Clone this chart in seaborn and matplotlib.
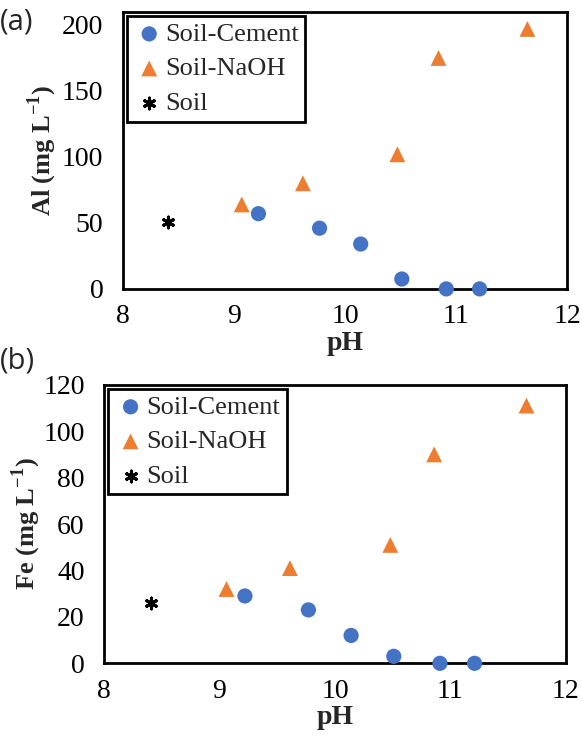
import pandas as pd
import seaborn as sns
from matplotlib import pyplot as plt

# data
ph_cement = [9.22, 9.77, 10.14, 10.51, 10.91, 11.21]
al_cement = [57, 46, 34, 7.5, 0, 0]
fe_cement = [29, 23, 12, 3, 0, 0]

ph_naoh_al = [9.07, 9.62, 10.47, 10.84, 11.64]
al_naoh = [64, 80, 102, 175, 197]
ph_naoh_fe = [9.06, 9.61, 10.48, 10.86, 11.66]
fe_naoh = [32, 41, 51, 90, 111]

ph_soil = [8.41]
al_soil = [51]
fe_soil = [26]

blue = "#4472C4"
orange = "#ED7D31"

sns.set_style("white")
plt.rcParams['font.family'] = ['Liberation Serif', 'DejaVu Serif']
plt.rcParams['mathtext.fontset'] = 'custom'
plt.rcParams['mathtext.rm'] = 'Liberation Serif'
plt.rcParams['mathtext.bf'] = 'Liberation Serif:bold'

fig = plt.figure(figsize=(5.82, 7.37), dpi=100)
ax1 = fig.add_axes([0.211, 0.608, 0.764, 0.376])
ax2 = fig.add_axes([0.179, 0.100, 0.793, 0.378])


def draw(ax, ph_c, y_c, ph_n, y_n, ph_s, y_s):
    sns.scatterplot(x=ph_c, y=y_c, ax=ax, color=blue, marker="o", s=120,
                    edgecolor="none", label="Soil-Cement", clip_on=False, zorder=3)
    sns.scatterplot(x=ph_n, y=y_n, ax=ax, color=orange, marker="^", s=130,
                    edgecolor="none", label="Soil-NaOH", clip_on=False, zorder=3)
    sns.scatterplot(x=ph_s, y=y_s, ax=ax, color="black", marker=(6, 2, 0), s=60,
                    linewidth=2.2, label="Soil", zorder=3)
    ax.set_xlim(8, 12)
    ax.set_xticks([8, 9, 10, 11, 12])
    for sp in ax.spines.values():
        sp.set_visible(True)
        sp.set_color("black")
        sp.set_linewidth(2)
    ax.tick_params(direction="in", length=7, width=1.5, labelsize=20,
                   colors="black", pad=14)
    ax.tick_params(axis="x", pad=11)
    ax.set_xlabel("pH", fontsize=20, fontweight="bold", labelpad=1)
    leg = ax.legend(loc="upper left", fontsize=19, frameon=True, fancybox=False,
                    framealpha=1, edgecolor="black", borderpad=0.25,
                    handletextpad=0.0, labelspacing=0.42, borderaxespad=0.15,
                    handlelength=1.2)
    leg.get_frame().set_linewidth(2)


draw(ax1, ph_cement, al_cement, ph_naoh_al, al_naoh, ph_soil, al_soil)
ax1.set_ylim(0, 210)
ax1.set_yticks([0, 50, 100, 150, 200])
ax1.set_ylabel(r"Al (mg L$^{\mathbf{-1}}$)", fontsize=19, fontweight="bold", labelpad=2)

draw(ax2, ph_cement, fe_cement, ph_naoh_fe, fe_naoh, ph_soil, fe_soil)
ax2.set_ylim(0, 120)
ax2.set_yticks([0, 20, 40, 60, 80, 100, 120])
ax2.set_ylabel(r"Fe (mg L$^{\mathbf{-1}}$)", fontsize=19, fontweight="bold", labelpad=0)

fig.text(0.0, 0.970, "(a)", fontsize=21, family="Open Sans", va="center")
fig.text(0.0, 0.510, "(b)", fontsize=21, family="Open Sans", va="center")

fig.savefig("out.png", dpi=100)
